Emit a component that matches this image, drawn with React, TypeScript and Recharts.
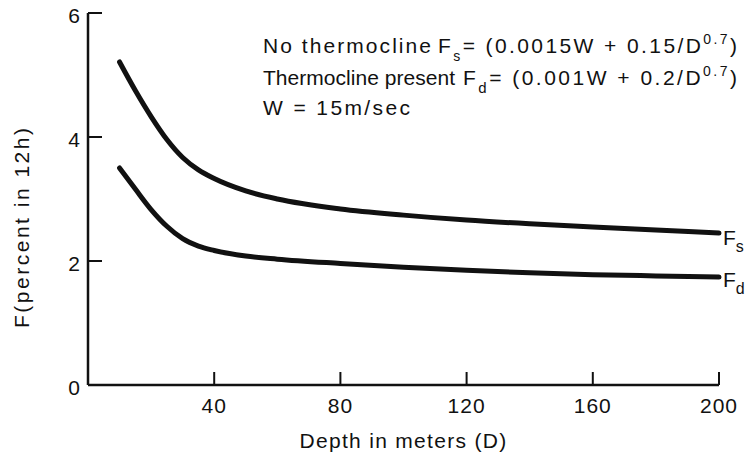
import React from "react";
import {
  LineChart,
  Line,
  XAxis,
  YAxis,
  Label,
  Customized,
} from "recharts";

// values
const depths = [10, 15, 20, 25, 30, 35, 40, 50, 60, 80, 100, 120, 140, 160, 180, 200];
const fsValues = [5.21, 4.75, 4.33, 3.96, 3.67, 3.47, 3.33, 3.13, 3.0, 2.84, 2.74, 2.66, 2.6, 2.55, 2.5, 2.45];
const fdValues = [3.5, 3.16, 2.83, 2.56, 2.36, 2.24, 2.17, 2.08, 2.03, 1.96, 1.9, 1.85, 1.81, 1.78, 1.76, 1.74];
const xTicks = [40, 80, 120, 160, 200];
const yTicks = [0, 2, 4, 6];

const data = depths.map((d, i) => ({ depth: d, fs: fsValues[i], fd: fdValues[i] }));

const FONT = "'Liberation Sans', Arial, sans-serif";
const INK = "#111";

// ticks drawn inward from the axis line, label outside
const XTick = (props: any) => {
  const { x, y, payload } = props;
  return (
    <g>
      <line x1={x} x2={x} y1={y} y2={y - 13} stroke={INK} strokeWidth={2} />
      <text x={x} y={y + 28} textAnchor="middle" fontSize={21} letterSpacing={1} fontFamily={FONT} fill={INK}>
        {payload.value}
      </text>
    </g>
  );
};

const YTick = (props: any) => {
  const { x, y, payload } = props;
  return (
    <g>
      <line x1={x} x2={x + 14} y1={y} y2={y} stroke={INK} strokeWidth={2} />
      <text x={x - 8} y={y + 10} textAnchor="end" fontSize={21} fontFamily={FONT} fill={INK}>
        {payload.value}
      </text>
    </g>
  );
};

// "F" with a subscript at the end of each curve
const endLabel = (sub: string, dy: number) => (props: any) => {
  const { x, y, index } = props;
  if (index !== depths.length - 1) return null;
  return (
    <text x={x + 4} y={y + dy} fontSize={21} fontFamily={FONT} fill={INK}>
      F
      <tspan fontSize={16} dy={7}>{sub}</tspan>
    </text>
  );
};

// formula block, top right
const Notes = () => (
  <g fontFamily={FONT} fill={INK} fontSize={21}>
    <text x={263} y={53} textLength={168} lengthAdjust="spacing">No thermocline</text>
    <text x={438} y={53} textLength={299} lengthAdjust="spacing">
      F<tspan fontSize={14} dy={8}>s</tspan>
      <tspan dy={-8}>= (0.0015W + 0.15/D</tspan>
      <tspan fontSize={14} dy={-9}>0.7</tspan>
      <tspan dy={9}>)</tspan>
    </text>
    <text x={263} y={85} textLength={192} lengthAdjust="spacing">Thermocline present</text>
    <text x={463} y={85} textLength={274} lengthAdjust="spacing">
      F<tspan fontSize={15} dy={8}>d</tspan>
      <tspan dy={-8}>= (0.001W + 0.2/D</tspan>
      <tspan fontSize={14} dy={-9}>0.7</tspan>
      <tspan dy={9}>)</tspan>
    </text>
    <text x={263} y={115} textLength={147} lengthAdjust="spacing">W = 15m/sec</text>
    <text
      x={0}
      y={0}
      transform="translate(29 228) rotate(-90)"
      textAnchor="middle"
      textLength={200}
      lengthAdjust="spacing"
    >
      F(percent in 12h)
    </text>
  </g>
);

export default function App() {
  return (
    <div style={{ background: "#fff", margin: -8, width: 756, height: 466 }}>
      <LineChart
        width={756}
        height={466}
        data={data}
        margin={{ top: 13, right: 37, left: 0, bottom: 0 }}
      >
        <XAxis
          dataKey="depth"
          type="number"
          domain={[0, 200]}
          ticks={xTicks}
          height={81}
          axisLine={{ stroke: INK, strokeWidth: 2.5 }}
          tickLine={false}
          tickSize={0}
          tickMargin={0}
          tick={<XTick />}
          interval={0}
        >
          <Label
            value="Depth in meters (D)"
            position="insideBottom"
            offset={18}
            style={{ fontSize: 21, letterSpacing: 1.3, fontFamily: FONT, fill: INK }}
          />
        </XAxis>
        <YAxis
          type="number"
          domain={[0, 6]}
          ticks={yTicks}
          width={88}
          axisLine={{ stroke: INK, strokeWidth: 2.5 }}
          tickLine={false}
          tickSize={0}
          tickMargin={0}
          tick={<YTick />}
          interval={0}
        />
        <Line
          dataKey="fs"
          type="monotone"
          stroke={INK}
          strokeWidth={5}
          strokeLinecap="round"
          dot={false}
          isAnimationActive={false}
          label={endLabel("s", 12)}
        />
        <Line
          dataKey="fd"
          type="monotone"
          stroke={INK}
          strokeWidth={5}
          strokeLinecap="round"
          dot={false}
          isAnimationActive={false}
          label={endLabel("d", 10)}
        />
        <Customized component={Notes} />
      </LineChart>
    </div>
  );
}
